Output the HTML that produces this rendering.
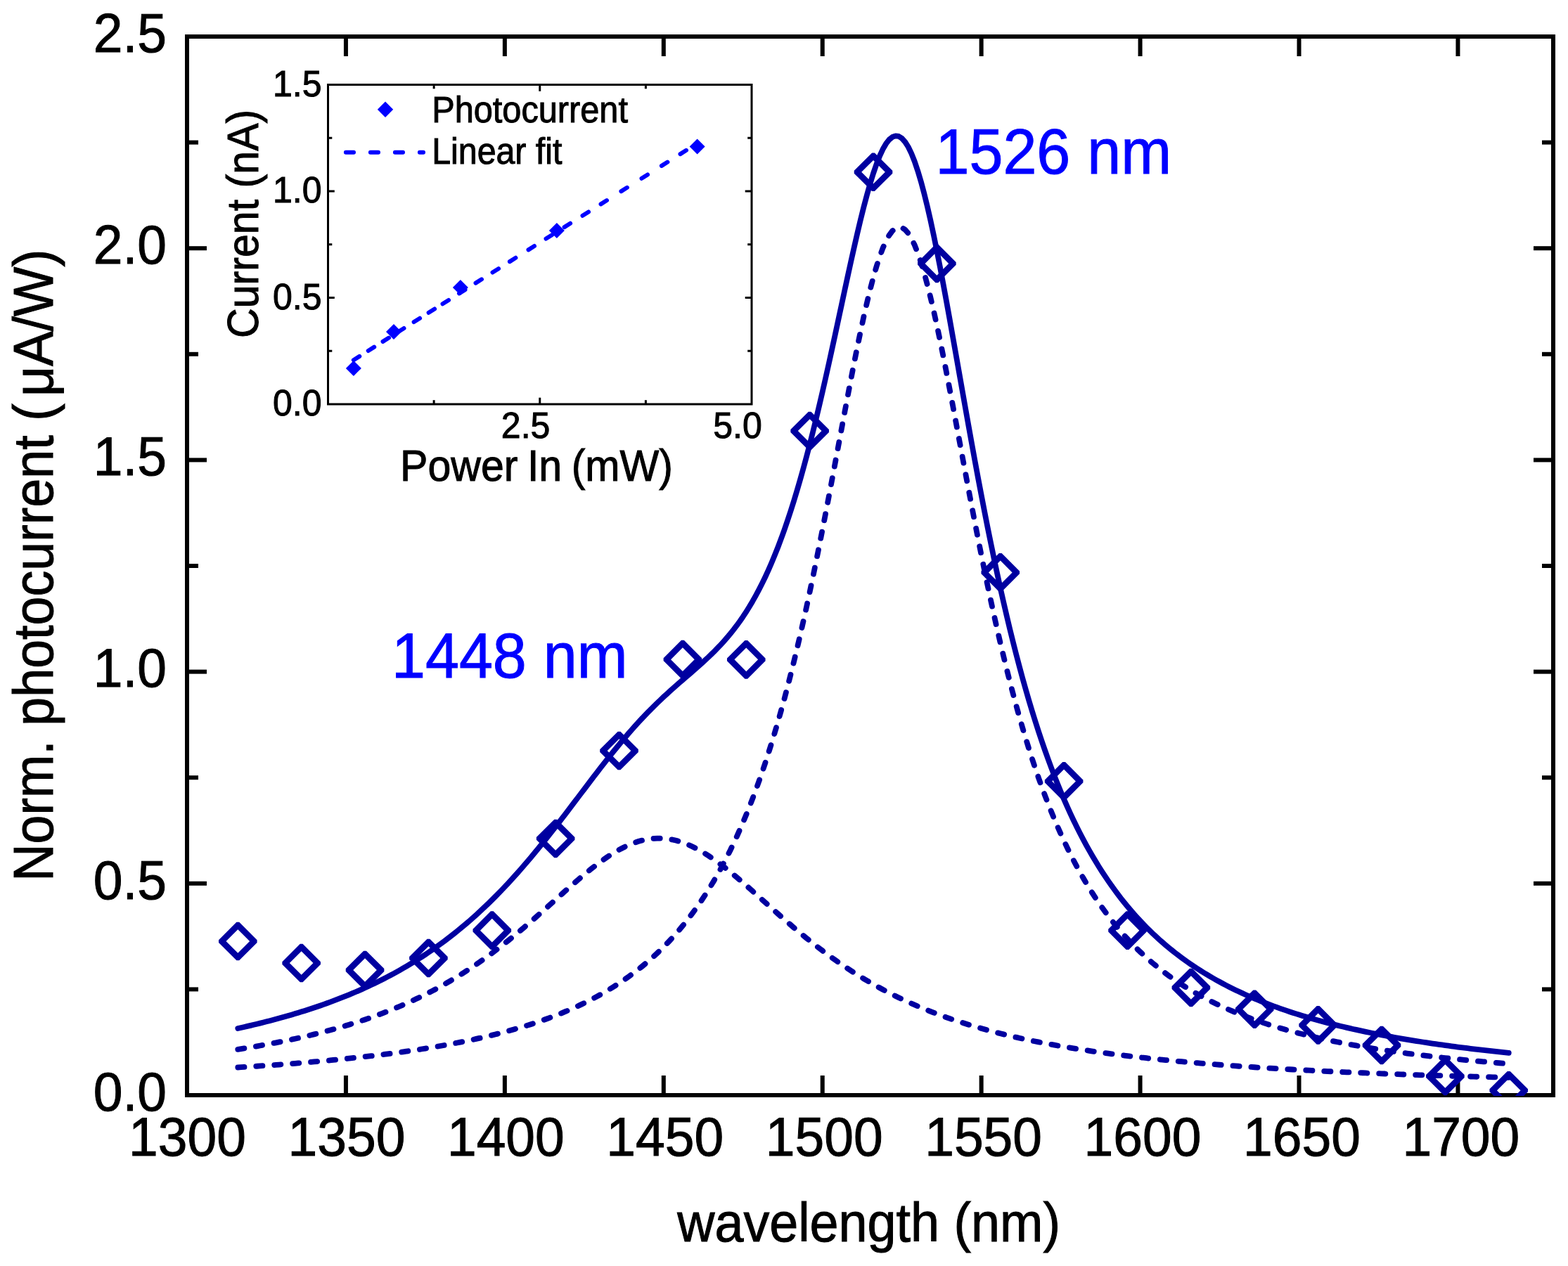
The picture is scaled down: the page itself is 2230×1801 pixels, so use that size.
<!DOCTYPE html>
<html><head><meta charset="utf-8"><title>Photocurrent spectrum</title>
<style>html,body{margin:0;padding:0;background:#fff;}body{width:2230px;height:1801px;overflow:hidden;}svg{display:block;}text{font-family:'Liberation Sans', Arial, Helvetica, sans-serif;}</style></head><body>
<svg width="2230" height="1801" viewBox="0 0 2230 1801">
<rect x="0" y="0" width="2230" height="1801" fill="#fff"/>
<defs><clipPath id="pc"><rect x="266.0" y="52.0" width="1943.0" height="1507.0"/></clipPath></defs>
<g stroke="#000" stroke-width="6" fill="none">
<rect x="266.0" y="52.0" width="1943.0" height="1506.0" stroke-linejoin="miter"/>
<line x1="491.93" y1="1558.0" x2="491.93" y2="1530.0"/>
<line x1="491.93" y1="52.0" x2="491.93" y2="80.0"/>
<line x1="717.86" y1="1558.0" x2="717.86" y2="1530.0"/>
<line x1="717.86" y1="52.0" x2="717.86" y2="80.0"/>
<line x1="943.79" y1="1558.0" x2="943.79" y2="1530.0"/>
<line x1="943.79" y1="52.0" x2="943.79" y2="80.0"/>
<line x1="1169.72" y1="1558.0" x2="1169.72" y2="1530.0"/>
<line x1="1169.72" y1="52.0" x2="1169.72" y2="80.0"/>
<line x1="1395.65" y1="1558.0" x2="1395.65" y2="1530.0"/>
<line x1="1395.65" y1="52.0" x2="1395.65" y2="80.0"/>
<line x1="1621.58" y1="1558.0" x2="1621.58" y2="1530.0"/>
<line x1="1621.58" y1="52.0" x2="1621.58" y2="80.0"/>
<line x1="1847.51" y1="1558.0" x2="1847.51" y2="1530.0"/>
<line x1="1847.51" y1="52.0" x2="1847.51" y2="80.0"/>
<line x1="2073.44" y1="1558.0" x2="2073.44" y2="1530.0"/>
<line x1="2073.44" y1="52.0" x2="2073.44" y2="80.0"/>
<line x1="266.0" y1="1407.40" x2="282.0" y2="1407.40"/>
<line x1="2209.0" y1="1407.40" x2="2193.0" y2="1407.40"/>
<line x1="266.0" y1="1256.80" x2="294.0" y2="1256.80"/>
<line x1="2209.0" y1="1256.80" x2="2181.0" y2="1256.80"/>
<line x1="266.0" y1="1106.20" x2="282.0" y2="1106.20"/>
<line x1="2209.0" y1="1106.20" x2="2193.0" y2="1106.20"/>
<line x1="266.0" y1="955.60" x2="294.0" y2="955.60"/>
<line x1="2209.0" y1="955.60" x2="2181.0" y2="955.60"/>
<line x1="266.0" y1="805.00" x2="282.0" y2="805.00"/>
<line x1="2209.0" y1="805.00" x2="2193.0" y2="805.00"/>
<line x1="266.0" y1="654.40" x2="294.0" y2="654.40"/>
<line x1="2209.0" y1="654.40" x2="2181.0" y2="654.40"/>
<line x1="266.0" y1="503.80" x2="282.0" y2="503.80"/>
<line x1="2209.0" y1="503.80" x2="2193.0" y2="503.80"/>
<line x1="266.0" y1="353.20" x2="294.0" y2="353.20"/>
<line x1="2209.0" y1="353.20" x2="2181.0" y2="353.20"/>
<line x1="266.0" y1="202.60" x2="282.0" y2="202.60"/>
<line x1="2209.0" y1="202.60" x2="2193.0" y2="202.60"/>
</g>
<g clip-path="url(#pc)" fill="none" stroke="#0000A0" stroke-width="7.8">
<path d="M338.30,1492.79 L342.82,1492.08 L347.33,1491.35 L351.85,1490.61 L356.37,1489.86 L360.89,1489.09 L365.41,1488.31 L369.93,1487.51 L374.45,1486.70 L378.97,1485.87 L383.48,1485.03 L388.00,1484.17 L392.52,1483.30 L397.04,1482.41 L401.56,1481.50 L406.08,1480.58 L410.60,1479.63 L415.11,1478.67 L419.63,1477.69 L424.15,1476.69 L428.67,1475.67 L433.19,1474.64 L437.71,1473.58 L442.23,1472.50 L446.74,1471.40 L451.26,1470.27 L455.78,1469.13 L460.30,1467.96 L464.82,1466.77 L469.34,1465.55 L473.86,1464.31 L478.37,1463.05 L482.89,1461.76 L487.41,1460.44 L491.93,1459.09 L496.45,1457.72 L500.97,1456.32 L505.49,1454.89 L510.00,1453.44 L514.52,1451.95 L519.04,1450.43 L523.56,1448.88 L528.08,1447.30 L532.60,1445.68 L537.12,1444.03 L541.63,1442.35 L546.15,1440.63 L550.67,1438.87 L555.19,1437.08 L559.71,1435.25 L564.23,1433.39 L568.75,1431.48 L573.27,1429.53 L577.78,1427.55 L582.30,1425.52 L586.82,1423.45 L591.34,1421.33 L595.86,1419.18 L600.38,1416.97 L604.90,1414.73 L609.41,1412.43 L613.93,1410.09 L618.45,1407.70 L622.97,1405.26 L627.49,1402.78 L632.01,1400.24 L636.53,1397.65 L641.04,1395.02 L645.56,1392.32 L650.08,1389.58 L654.60,1386.79 L659.12,1383.94 L663.64,1381.03 L668.16,1378.08 L672.67,1375.06 L677.19,1372.00 L681.71,1368.88 L686.23,1365.70 L690.75,1362.47 L695.27,1359.18 L699.79,1355.84 L704.30,1352.45 L708.82,1349.01 L713.34,1345.51 L717.86,1341.96 L722.38,1338.36 L726.90,1334.71 L731.42,1331.02 L735.93,1327.28 L740.45,1323.49 L744.97,1319.67 L749.49,1315.80 L754.01,1311.90 L758.53,1307.97 L763.05,1304.00 L767.57,1300.01 L772.08,1296.00 L776.60,1291.97 L781.12,1287.93 L785.64,1283.88 L790.16,1279.83 L794.68,1275.77 L799.20,1271.73 L803.71,1267.70 L808.23,1263.69 L812.75,1259.71 L817.27,1255.77 L821.79,1251.86 L826.31,1248.01 L830.83,1244.22 L835.34,1240.49 L839.86,1236.84 L844.38,1233.28 L848.90,1229.81 L853.42,1226.44 L857.94,1223.18 L862.46,1220.04 L866.97,1217.02 L871.49,1214.15 L876.01,1211.42 L880.53,1208.85 L885.05,1206.44 L889.57,1204.20 L894.09,1202.14 L898.60,1200.26 L903.12,1198.58 L907.64,1197.09 L912.16,1195.81 L916.68,1194.73 L921.20,1193.86 L925.72,1193.21 L930.23,1192.77 L934.75,1192.55 L939.27,1192.55 L943.79,1192.77 L948.31,1193.21 L952.83,1193.86 L957.35,1194.73 L961.87,1195.81 L966.38,1197.09 L970.90,1198.58 L975.42,1200.26 L979.94,1202.14 L984.46,1204.20 L988.98,1206.44 L993.50,1208.85 L998.01,1211.42 L1002.53,1214.15 L1007.05,1217.02 L1011.57,1220.04 L1016.09,1223.18 L1020.61,1226.44 L1025.13,1229.81 L1029.64,1233.28 L1034.16,1236.84 L1038.68,1240.49 L1043.20,1244.22 L1047.72,1248.01 L1052.24,1251.86 L1056.76,1255.77 L1061.27,1259.71 L1065.79,1263.69 L1070.31,1267.70 L1074.83,1271.73 L1079.35,1275.77 L1083.87,1279.83 L1088.39,1283.88 L1092.90,1287.93 L1097.42,1291.97 L1101.94,1296.00 L1106.46,1300.01 L1110.98,1304.00 L1115.50,1307.97 L1120.02,1311.90 L1124.53,1315.80 L1129.05,1319.67 L1133.57,1323.49 L1138.09,1327.28 L1142.61,1331.02 L1147.13,1334.71 L1151.65,1338.36 L1156.17,1341.96 L1160.68,1345.51 L1165.20,1349.01 L1169.72,1352.45 L1174.24,1355.84 L1178.76,1359.18 L1183.28,1362.47 L1187.80,1365.70 L1192.31,1368.88 L1196.83,1372.00 L1201.35,1375.06 L1205.87,1378.08 L1210.39,1381.03 L1214.91,1383.94 L1219.43,1386.79 L1223.94,1389.58 L1228.46,1392.32 L1232.98,1395.02 L1237.50,1397.65 L1242.02,1400.24 L1246.54,1402.78 L1251.06,1405.26 L1255.57,1407.70 L1260.09,1410.09 L1264.61,1412.43 L1269.13,1414.73 L1273.65,1416.97 L1278.17,1419.18 L1282.69,1421.33 L1287.20,1423.45 L1291.72,1425.52 L1296.24,1427.55 L1300.76,1429.53 L1305.28,1431.48 L1309.80,1433.39 L1314.32,1435.25 L1318.83,1437.08 L1323.35,1438.87 L1327.87,1440.63 L1332.39,1442.35 L1336.91,1444.03 L1341.43,1445.68 L1345.95,1447.30 L1350.47,1448.88 L1354.98,1450.43 L1359.50,1451.95 L1364.02,1453.44 L1368.54,1454.89 L1373.06,1456.32 L1377.58,1457.72 L1382.10,1459.09 L1386.61,1460.44 L1391.13,1461.76 L1395.65,1463.05 L1400.17,1464.31 L1404.69,1465.55 L1409.21,1466.77 L1413.73,1467.96 L1418.24,1469.13 L1422.76,1470.27 L1427.28,1471.40 L1431.80,1472.50 L1436.32,1473.58 L1440.84,1474.64 L1445.36,1475.67 L1449.87,1476.69 L1454.39,1477.69 L1458.91,1478.67 L1463.43,1479.63 L1467.95,1480.58 L1472.47,1481.50 L1476.99,1482.41 L1481.50,1483.30 L1486.02,1484.17 L1490.54,1485.03 L1495.06,1485.87 L1499.58,1486.70 L1504.10,1487.51 L1508.62,1488.31 L1513.13,1489.09 L1517.65,1489.86 L1522.17,1490.61 L1526.69,1491.35 L1531.21,1492.08 L1535.73,1492.79 L1540.25,1493.49 L1544.77,1494.18 L1549.28,1494.86 L1553.80,1495.53 L1558.32,1496.18 L1562.84,1496.82 L1567.36,1497.45 L1571.88,1498.07 L1576.40,1498.68 L1580.91,1499.28 L1585.43,1499.87 L1589.95,1500.45 L1594.47,1501.02 L1598.99,1501.58 L1603.51,1502.13 L1608.03,1502.67 L1612.54,1503.20 L1617.06,1503.72 L1621.58,1504.24 L1626.10,1504.74 L1630.62,1505.24 L1635.14,1505.73 L1639.66,1506.21 L1644.17,1506.69 L1648.69,1507.15 L1653.21,1507.61 L1657.73,1508.06 L1662.25,1508.51 L1666.77,1508.95 L1671.29,1509.38 L1675.80,1509.80 L1680.32,1510.22 L1684.84,1510.63 L1689.36,1511.03 L1693.88,1511.43 L1698.40,1511.82 L1702.92,1512.21 L1707.43,1512.59 L1711.95,1512.96 L1716.47,1513.33 L1720.99,1513.70 L1725.51,1514.05 L1730.03,1514.41 L1734.55,1514.75 L1739.07,1515.10 L1743.58,1515.43 L1748.10,1515.77 L1752.62,1516.09 L1757.14,1516.42 L1761.66,1516.74 L1766.18,1517.05 L1770.70,1517.36 L1775.21,1517.66 L1779.73,1517.96 L1784.25,1518.26 L1788.77,1518.55 L1793.29,1518.84 L1797.81,1519.12 L1802.33,1519.40 L1806.84,1519.68 L1811.36,1519.95 L1815.88,1520.22 L1820.40,1520.48 L1824.92,1520.74 L1829.44,1521.00 L1833.96,1521.26 L1838.47,1521.51 L1842.99,1521.75 L1847.51,1522.00 L1852.03,1522.24 L1856.55,1522.48 L1861.07,1522.71 L1865.59,1522.94 L1870.10,1523.17 L1874.62,1523.39 L1879.14,1523.62 L1883.66,1523.84 L1888.18,1524.05 L1892.70,1524.27 L1897.22,1524.48 L1901.73,1524.69 L1906.25,1524.89 L1910.77,1525.09 L1915.29,1525.30 L1919.81,1525.49 L1924.33,1525.69 L1928.85,1525.88 L1933.37,1526.07 L1937.88,1526.26 L1942.40,1526.45 L1946.92,1526.63 L1951.44,1526.81 L1955.96,1526.99 L1960.48,1527.17 L1965.00,1527.34 L1969.51,1527.52 L1974.03,1527.69 L1978.55,1527.86 L1983.07,1528.02 L1987.59,1528.19 L1992.11,1528.35 L1996.63,1528.51 L2001.14,1528.67 L2005.66,1528.83 L2010.18,1528.98 L2014.70,1529.14 L2019.22,1529.29 L2023.74,1529.44 L2028.26,1529.58 L2032.77,1529.73 L2037.29,1529.88 L2041.81,1530.02 L2046.33,1530.16 L2050.85,1530.30 L2055.37,1530.44 L2059.89,1530.58 L2064.40,1530.71 L2068.92,1530.84 L2073.44,1530.98 L2077.96,1531.11 L2082.48,1531.24 L2087.00,1531.36 L2091.52,1531.49 L2096.03,1531.62 L2100.55,1531.74 L2105.07,1531.86 L2109.59,1531.98 L2114.11,1532.10 L2118.63,1532.22 L2123.15,1532.34 L2127.67,1532.45 L2132.18,1532.57 L2136.70,1532.68 L2141.22,1532.80 L2145.74,1532.91" stroke-dasharray="9.2 16.8" stroke-linecap="round"/>
<path d="M338.30,1518.51 L342.82,1518.23 L347.33,1517.94 L351.85,1517.65 L356.37,1517.36 L360.89,1517.06 L365.41,1516.76 L369.93,1516.45 L374.45,1516.14 L378.97,1515.83 L383.48,1515.51 L388.00,1515.18 L392.52,1514.85 L397.04,1514.52 L401.56,1514.18 L406.08,1513.83 L410.60,1513.48 L415.11,1513.13 L419.63,1512.77 L424.15,1512.40 L428.67,1512.03 L433.19,1511.65 L437.71,1511.27 L442.23,1510.88 L446.74,1510.48 L451.26,1510.08 L455.78,1509.67 L460.30,1509.26 L464.82,1508.84 L469.34,1508.41 L473.86,1507.97 L478.37,1507.53 L482.89,1507.08 L487.41,1506.63 L491.93,1506.16 L496.45,1505.69 L500.97,1505.21 L505.49,1504.72 L510.00,1504.23 L514.52,1503.72 L519.04,1503.21 L523.56,1502.69 L528.08,1502.16 L532.60,1501.62 L537.12,1501.07 L541.63,1500.51 L546.15,1499.94 L550.67,1499.36 L555.19,1498.78 L559.71,1498.18 L564.23,1497.57 L568.75,1496.94 L573.27,1496.31 L577.78,1495.67 L582.30,1495.01 L586.82,1494.34 L591.34,1493.66 L595.86,1492.97 L600.38,1492.27 L604.90,1491.55 L609.41,1490.81 L613.93,1490.07 L618.45,1489.30 L622.97,1488.53 L627.49,1487.74 L632.01,1486.93 L636.53,1486.11 L641.04,1485.27 L645.56,1484.41 L650.08,1483.54 L654.60,1482.65 L659.12,1481.74 L663.64,1480.81 L668.16,1479.86 L672.67,1478.90 L677.19,1477.91 L681.71,1476.90 L686.23,1475.87 L690.75,1474.82 L695.27,1473.75 L699.79,1472.65 L704.30,1471.53 L708.82,1470.39 L713.34,1469.22 L717.86,1468.02 L722.38,1466.80 L726.90,1465.55 L731.42,1464.27 L735.93,1462.96 L740.45,1461.63 L744.97,1460.26 L749.49,1458.86 L754.01,1457.43 L758.53,1455.96 L763.05,1454.46 L767.57,1452.92 L772.08,1451.35 L776.60,1449.74 L781.12,1448.09 L785.64,1446.40 L790.16,1444.66 L794.68,1442.89 L799.20,1441.07 L803.71,1439.20 L808.23,1437.29 L812.75,1435.32 L817.27,1433.31 L821.79,1431.24 L826.31,1429.12 L830.83,1426.94 L835.34,1424.71 L839.86,1422.41 L844.38,1420.06 L848.90,1417.64 L853.42,1415.15 L857.94,1412.59 L862.46,1409.97 L866.97,1407.27 L871.49,1404.49 L876.01,1401.64 L880.53,1398.70 L885.05,1395.68 L889.57,1392.57 L894.09,1389.37 L898.60,1386.07 L903.12,1382.68 L907.64,1379.18 L912.16,1375.58 L916.68,1371.87 L921.20,1368.04 L925.72,1364.10 L930.23,1360.03 L934.75,1355.84 L939.27,1351.51 L943.79,1347.05 L948.31,1342.44 L952.83,1337.69 L957.35,1332.77 L961.87,1327.70 L966.38,1322.46 L970.90,1317.05 L975.42,1311.46 L979.94,1305.67 L984.46,1299.69 L988.98,1293.51 L993.50,1287.12 L998.01,1280.50 L1002.53,1273.65 L1007.05,1266.57 L1011.57,1259.23 L1016.09,1251.64 L1020.61,1243.77 L1025.13,1235.63 L1029.64,1227.19 L1034.16,1218.45 L1038.68,1209.40 L1043.20,1200.01 L1047.72,1190.29 L1052.24,1180.21 L1056.76,1169.76 L1061.27,1158.93 L1065.79,1147.71 L1070.31,1136.08 L1074.83,1124.02 L1079.35,1111.53 L1083.87,1098.58 L1088.39,1085.16 L1092.90,1071.26 L1097.42,1056.87 L1101.94,1041.97 L1106.46,1026.55 L1110.98,1010.60 L1115.50,994.10 L1120.02,977.06 L1124.53,959.45 L1129.05,941.28 L1133.57,922.55 L1138.09,903.25 L1142.61,883.39 L1147.13,862.98 L1151.65,842.02 L1156.17,820.55 L1160.68,798.58 L1165.20,776.14 L1169.72,753.27 L1174.24,730.01 L1178.76,706.43 L1183.28,682.57 L1187.80,658.52 L1192.31,634.36 L1196.83,610.18 L1201.35,586.09 L1205.87,562.19 L1210.39,538.61 L1214.91,515.49 L1219.43,492.97 L1223.94,471.20 L1228.46,450.33 L1232.98,430.53 L1237.50,411.94 L1242.02,394.74 L1246.54,379.08 L1251.06,365.10 L1255.57,352.94 L1260.09,342.73 L1264.61,334.56 L1269.13,328.53 L1273.65,324.71 L1278.17,323.13 L1282.69,323.80 L1287.20,326.74 L1291.72,331.89 L1296.24,339.21 L1300.76,348.62 L1305.28,360.01 L1309.80,373.28 L1314.32,388.29 L1318.83,404.89 L1323.35,422.94 L1327.87,442.27 L1332.39,462.73 L1336.91,484.16 L1341.43,506.40 L1345.95,529.30 L1350.47,552.71 L1354.98,576.50 L1359.50,600.53 L1364.02,624.69 L1368.54,648.87 L1373.06,672.97 L1377.58,696.91 L1382.10,720.61 L1386.61,744.01 L1391.13,767.04 L1395.65,789.66 L1400.17,811.82 L1404.69,833.49 L1409.21,854.66 L1413.73,875.29 L1418.24,895.37 L1422.76,914.90 L1427.28,933.86 L1431.80,952.25 L1436.32,970.08 L1440.84,987.35 L1445.36,1004.07 L1449.87,1020.24 L1454.39,1035.87 L1458.91,1050.97 L1463.43,1065.57 L1467.95,1079.66 L1472.47,1093.27 L1476.99,1106.40 L1481.50,1119.08 L1486.02,1131.31 L1490.54,1143.11 L1495.06,1154.49 L1499.58,1165.48 L1504.10,1176.07 L1508.62,1186.30 L1513.13,1196.16 L1517.65,1205.68 L1522.17,1214.87 L1526.69,1223.73 L1531.21,1232.29 L1535.73,1240.55 L1540.25,1248.52 L1544.77,1256.22 L1549.28,1263.66 L1553.80,1270.85 L1558.32,1277.79 L1562.84,1284.50 L1567.36,1290.98 L1571.88,1297.25 L1576.40,1303.31 L1580.91,1309.17 L1585.43,1314.83 L1589.95,1320.32 L1594.47,1325.63 L1598.99,1330.77 L1603.51,1335.74 L1608.03,1340.56 L1612.54,1345.22 L1617.06,1349.74 L1621.58,1354.13 L1626.10,1358.37 L1630.62,1362.49 L1635.14,1366.48 L1639.66,1370.35 L1644.17,1374.11 L1648.69,1377.75 L1653.21,1381.29 L1657.73,1384.72 L1662.25,1388.06 L1666.77,1391.30 L1671.29,1394.44 L1675.80,1397.50 L1680.32,1400.47 L1684.84,1403.36 L1689.36,1406.17 L1693.88,1408.90 L1698.40,1411.55 L1702.92,1414.14 L1707.43,1416.65 L1711.95,1419.10 L1716.47,1421.48 L1720.99,1423.80 L1725.51,1426.06 L1730.03,1428.26 L1734.55,1430.40 L1739.07,1432.49 L1743.58,1434.52 L1748.10,1436.51 L1752.62,1438.44 L1757.14,1440.33 L1761.66,1442.16 L1766.18,1443.96 L1770.70,1445.71 L1775.21,1447.42 L1779.73,1449.08 L1784.25,1450.71 L1788.77,1452.30 L1793.29,1453.85 L1797.81,1455.37 L1802.33,1456.85 L1806.84,1458.29 L1811.36,1459.70 L1815.88,1461.08 L1820.40,1462.43 L1824.92,1463.75 L1829.44,1465.04 L1833.96,1466.30 L1838.47,1467.54 L1842.99,1468.74 L1847.51,1469.92 L1852.03,1471.08 L1856.55,1472.21 L1861.07,1473.31 L1865.59,1474.39 L1870.10,1475.45 L1874.62,1476.49 L1879.14,1477.51 L1883.66,1478.50 L1888.18,1479.48 L1892.70,1480.43 L1897.22,1481.37 L1901.73,1482.28 L1906.25,1483.18 L1910.77,1484.06 L1915.29,1484.93 L1919.81,1485.77 L1924.33,1486.60 L1928.85,1487.41 L1933.37,1488.21 L1937.88,1488.99 L1942.40,1489.76 L1946.92,1490.52 L1951.44,1491.25 L1955.96,1491.98 L1960.48,1492.69 L1965.00,1493.39 L1969.51,1494.07 L1974.03,1494.75 L1978.55,1495.41 L1983.07,1496.06 L1987.59,1496.69 L1992.11,1497.32 L1996.63,1497.93 L2001.14,1498.54 L2005.66,1499.13 L2010.18,1499.71 L2014.70,1500.28 L2019.22,1500.85 L2023.74,1501.40 L2028.26,1501.94 L2032.77,1502.48 L2037.29,1503.00 L2041.81,1503.52 L2046.33,1504.03 L2050.85,1504.53 L2055.37,1505.02 L2059.89,1505.50 L2064.40,1505.97 L2068.92,1506.44 L2073.44,1506.90 L2077.96,1507.35 L2082.48,1507.80 L2087.00,1508.24 L2091.52,1508.67 L2096.03,1509.09 L2100.55,1509.51 L2105.07,1509.92 L2109.59,1510.32 L2114.11,1510.72 L2118.63,1511.11 L2123.15,1511.50 L2127.67,1511.88 L2132.18,1512.25 L2136.70,1512.62 L2141.22,1512.98 L2145.74,1513.34" stroke-dasharray="9.2 16.8" stroke-linecap="round"/>
<path d="M338.30,1462.94 L342.82,1461.95 L347.33,1460.93 L351.85,1459.90 L356.37,1458.86 L360.89,1457.79 L365.41,1456.71 L369.93,1455.60 L374.45,1454.48 L378.97,1453.34 L383.48,1452.17 L388.00,1450.99 L392.52,1449.79 L397.04,1448.56 L401.56,1447.31 L406.08,1446.04 L410.60,1444.75 L415.11,1443.44 L419.63,1442.09 L424.15,1440.73 L428.67,1439.34 L433.19,1437.92 L437.71,1436.48 L442.23,1435.01 L446.74,1433.52 L451.26,1431.99 L455.78,1430.44 L460.30,1428.86 L464.82,1427.24 L469.34,1425.60 L473.86,1423.92 L478.37,1422.22 L482.89,1420.48 L487.41,1418.70 L491.93,1416.90 L496.45,1415.05 L500.97,1413.17 L505.49,1411.26 L510.00,1409.30 L514.52,1407.31 L519.04,1405.28 L523.56,1403.21 L528.08,1401.09 L532.60,1398.94 L537.12,1396.74 L541.63,1394.50 L546.15,1392.21 L550.67,1389.88 L555.19,1387.50 L559.71,1385.07 L564.23,1382.59 L568.75,1380.06 L573.27,1377.48 L577.78,1374.85 L582.30,1372.17 L586.82,1369.43 L591.34,1366.64 L595.86,1363.79 L600.38,1360.88 L604.90,1357.91 L609.41,1354.88 L613.93,1351.79 L618.45,1348.64 L622.97,1345.43 L627.49,1342.15 L632.01,1338.81 L636.53,1335.40 L641.04,1331.92 L645.56,1328.37 L650.08,1324.76 L654.60,1321.07 L659.12,1317.31 L663.64,1313.48 L668.16,1309.58 L672.67,1305.60 L677.19,1301.54 L681.71,1297.41 L686.23,1293.21 L690.75,1288.93 L695.27,1284.57 L699.79,1280.13 L704.30,1275.62 L708.82,1271.03 L713.34,1266.36 L717.86,1261.62 L722.38,1256.80 L726.90,1251.90 L731.42,1246.93 L735.93,1241.88 L740.45,1236.76 L744.97,1231.56 L749.49,1226.30 L754.01,1220.97 L758.53,1215.57 L763.05,1210.10 L767.57,1204.58 L772.08,1198.99 L776.60,1193.35 L781.12,1187.66 L785.64,1181.92 L790.16,1176.13 L794.68,1170.30 L799.20,1164.43 L803.71,1158.54 L808.23,1152.62 L812.75,1146.67 L817.27,1140.71 L821.79,1134.74 L826.31,1128.77 L830.83,1122.80 L835.34,1116.84 L839.86,1110.90 L844.38,1104.98 L848.90,1099.08 L853.42,1093.22 L857.94,1087.41 L862.46,1081.64 L866.97,1075.93 L871.49,1070.28 L876.01,1064.70 L880.53,1059.19 L885.05,1053.76 L889.57,1048.41 L894.09,1043.15 L898.60,1037.97 L903.12,1032.89 L907.64,1027.91 L912.16,1023.02 L916.68,1018.23 L921.20,1013.54 L925.72,1008.94 L930.23,1004.44 L934.75,1000.03 L939.27,995.70 L943.79,991.46 L948.31,987.29 L952.83,983.18 L957.35,979.14 L961.87,975.15 L966.38,971.19 L970.90,967.27 L975.42,963.36 L979.94,959.45 L984.46,955.53 L988.98,951.59 L993.50,947.61 L998.01,943.56 L1002.53,939.44 L1007.05,935.23 L1011.57,930.91 L1016.09,926.45 L1020.61,921.85 L1025.13,917.07 L1029.64,912.11 L1034.16,906.93 L1038.68,901.53 L1043.20,895.87 L1047.72,889.94 L1052.24,883.71 L1056.76,877.17 L1061.27,870.28 L1065.79,863.04 L1070.31,855.42 L1074.83,847.39 L1079.35,838.94 L1083.87,830.04 L1088.39,820.68 L1092.90,810.83 L1097.42,800.49 L1101.94,789.61 L1106.46,778.21 L1110.98,766.24 L1115.50,753.71 L1120.02,740.60 L1124.53,726.89 L1129.05,712.59 L1133.57,697.68 L1138.09,682.16 L1142.61,666.04 L1147.13,649.32 L1151.65,632.02 L1156.17,614.15 L1160.68,595.72 L1165.20,576.78 L1169.72,557.36 L1174.24,537.50 L1178.76,517.25 L1183.28,496.68 L1187.80,475.86 L1192.31,454.88 L1196.83,433.82 L1201.35,412.79 L1205.87,391.90 L1210.39,371.28 L1214.91,351.07 L1219.43,331.39 L1223.94,312.42 L1228.46,294.29 L1232.98,277.18 L1237.50,261.24 L1242.02,246.62 L1246.54,233.50 L1251.06,222.00 L1255.57,212.28 L1260.09,204.46 L1264.61,198.63 L1269.13,194.90 L1273.65,193.32 L1278.17,193.94 L1282.69,196.78 L1287.20,201.82 L1291.72,209.05 L1296.24,218.39 L1300.76,229.79 L1305.28,243.13 L1309.80,258.30 L1314.32,275.18 L1318.83,293.61 L1323.35,313.45 L1327.87,334.54 L1332.39,356.72 L1336.91,379.83 L1341.43,403.72 L1345.95,428.23 L1350.47,453.23 L1354.98,478.56 L1359.50,504.11 L1364.02,529.76 L1368.54,555.40 L1373.06,580.93 L1377.58,606.28 L1382.10,631.35 L1386.61,656.09 L1391.13,680.43 L1395.65,704.34 L1400.17,727.77 L1404.69,750.69 L1409.21,773.06 L1413.73,794.89 L1418.24,816.14 L1422.76,836.81 L1427.28,856.89 L1431.80,876.39 L1436.32,895.30 L1440.84,913.62 L1445.36,931.38 L1449.87,948.57 L1454.39,965.20 L1458.91,981.28 L1463.43,996.84 L1467.95,1011.88 L1472.47,1026.41 L1476.99,1040.45 L1481.50,1054.01 L1486.02,1067.12 L1490.54,1079.78 L1495.06,1092.00 L1499.58,1103.81 L1504.10,1115.22 L1508.62,1126.24 L1513.13,1136.89 L1517.65,1147.18 L1522.17,1157.12 L1526.69,1166.72 L1531.21,1176.01 L1535.73,1184.98 L1540.25,1193.66 L1544.77,1202.05 L1549.28,1210.16 L1553.80,1218.01 L1558.32,1225.61 L1562.84,1232.96 L1567.36,1240.07 L1571.88,1246.96 L1576.40,1253.63 L1580.91,1260.08 L1585.43,1266.34 L1589.95,1272.41 L1594.47,1278.28 L1598.99,1283.98 L1603.51,1289.51 L1608.03,1294.86 L1612.54,1300.06 L1617.06,1305.11 L1621.58,1310.00 L1626.10,1314.75 L1630.62,1319.37 L1635.14,1323.85 L1639.66,1328.20 L1644.17,1332.43 L1648.69,1336.54 L1653.21,1340.54 L1657.73,1344.43 L1662.25,1348.21 L1666.77,1351.88 L1671.29,1355.46 L1675.80,1358.94 L1680.32,1362.33 L1684.84,1365.63 L1689.36,1368.84 L1693.88,1371.97 L1698.40,1375.01 L1702.92,1377.98 L1707.43,1380.88 L1711.95,1383.70 L1716.47,1386.45 L1720.99,1389.13 L1725.51,1391.75 L1730.03,1394.30 L1734.55,1396.79 L1739.07,1399.22 L1743.58,1401.59 L1748.10,1403.91 L1752.62,1406.17 L1757.14,1408.38 L1761.66,1410.54 L1766.18,1412.65 L1770.70,1414.70 L1775.21,1416.72 L1779.73,1418.68 L1784.25,1420.61 L1788.77,1422.49 L1793.29,1424.33 L1797.81,1426.13 L1802.33,1427.89 L1806.84,1429.61 L1811.36,1431.29 L1815.88,1432.94 L1820.40,1434.55 L1824.92,1436.13 L1829.44,1437.68 L1833.96,1439.20 L1838.47,1440.68 L1842.99,1442.13 L1847.51,1443.56 L1852.03,1444.95 L1856.55,1446.32 L1861.07,1447.66 L1865.59,1448.97 L1870.10,1450.26 L1874.62,1451.52 L1879.14,1452.76 L1883.66,1453.98 L1888.18,1455.17 L1892.70,1456.34 L1897.22,1457.48 L1901.73,1458.61 L1906.25,1459.71 L1910.77,1460.80 L1915.29,1461.86 L1919.81,1462.90 L1924.33,1463.93 L1928.85,1464.93 L1933.37,1465.92 L1937.88,1466.89 L1942.40,1467.85 L1946.92,1468.78 L1951.44,1469.70 L1955.96,1470.61 L1960.48,1471.50 L1965.00,1472.37 L1969.51,1473.23 L1974.03,1474.07 L1978.55,1474.90 L1983.07,1475.72 L1987.59,1476.52 L1992.11,1477.31 L1996.63,1478.08 L2001.14,1478.84 L2005.66,1479.59 L2010.18,1480.33 L2014.70,1481.06 L2019.22,1481.77 L2023.74,1482.48 L2028.26,1483.17 L2032.77,1483.85 L2037.29,1484.52 L2041.81,1485.18 L2046.33,1485.83 L2050.85,1486.46 L2055.37,1487.09 L2059.89,1487.71 L2064.40,1488.32 L2068.92,1488.92 L2073.44,1489.52 L2077.96,1490.10 L2082.48,1490.67 L2087.00,1491.24 L2091.52,1491.80 L2096.03,1492.34 L2100.55,1492.89 L2105.07,1493.42 L2109.59,1493.94 L2114.11,1494.46 L2118.63,1494.97 L2123.15,1495.47 L2127.67,1495.97 L2132.18,1496.46 L2136.70,1496.94 L2141.22,1497.42 L2145.74,1497.88" stroke-linecap="round" stroke-linejoin="round"/>
<path d="M336.40 1311.73L340.20 1311.73L365.60 1337.13L365.60 1340.93L340.20 1366.33L336.40 1366.33L311.00 1340.93L311.00 1337.13ZM338.30 1322.23L321.50 1339.03L338.30 1355.83L355.10 1339.03ZM426.77 1342.75L430.57 1342.75L455.97 1368.15L455.97 1371.95L430.57 1397.35L426.77 1397.35L401.37 1371.95L401.37 1368.15ZM428.67 1353.25L411.87 1370.05L428.67 1386.85L445.47 1370.05ZM517.14 1352.69L520.94 1352.69L546.34 1378.09L546.34 1381.89L520.94 1407.29L517.14 1407.29L491.74 1381.89L491.74 1378.09ZM519.04 1363.19L502.24 1379.99L519.04 1396.79L535.84 1379.99ZM607.51 1335.70L611.31 1335.70L636.71 1361.10L636.71 1364.90L611.31 1390.30L607.51 1390.30L582.11 1364.90L582.11 1361.10ZM609.41 1346.20L592.61 1363.00L609.41 1379.80L626.21 1363.00ZM697.89 1296.37L701.69 1296.37L727.09 1321.77L727.09 1325.57L701.69 1350.97L697.89 1350.97L672.49 1325.57L672.49 1321.77ZM699.79 1306.87L682.99 1323.67L699.79 1340.47L716.59 1323.67ZM788.26 1165.65L792.06 1165.65L817.46 1191.05L817.46 1194.85L792.06 1220.25L788.26 1220.25L762.86 1194.85L762.86 1191.05ZM790.16 1176.15L773.36 1192.95L790.16 1209.75L806.96 1192.95ZM878.63 1040.71L882.43 1040.71L907.83 1066.11L907.83 1069.91L882.43 1095.31L878.63 1095.31L853.23 1069.91L853.23 1066.11ZM880.53 1051.21L863.73 1068.01L880.53 1084.81L897.33 1068.01ZM969.00 910.83L972.80 910.83L998.20 936.23L998.20 940.03L972.80 965.43L969.00 965.43L943.60 940.03L943.60 936.23ZM970.90 921.33L954.10 938.13L970.90 954.93L987.70 938.13ZM1059.37 911.07L1063.17 911.07L1088.57 936.47L1088.57 940.27L1063.17 965.67L1059.37 965.67L1033.97 940.27L1033.97 936.47ZM1061.27 921.57L1044.47 938.37L1061.27 955.17L1078.07 938.37ZM1149.75 585.72L1153.55 585.72L1178.95 611.12L1178.95 614.92L1153.55 640.32L1149.75 640.32L1124.35 614.92L1124.35 611.12ZM1151.65 596.22L1134.85 613.02L1151.65 629.82L1168.45 613.02ZM1240.12 217.47L1243.92 217.47L1269.32 242.87L1269.32 246.67L1243.92 272.07L1240.12 272.07L1214.72 246.67L1214.72 242.87ZM1242.02 227.97L1225.22 244.77L1242.02 261.57L1258.82 244.77ZM1330.49 347.59L1334.29 347.59L1359.69 372.99L1359.69 376.79L1334.29 402.19L1330.49 402.19L1305.09 376.79L1305.09 372.99ZM1332.39 358.09L1315.59 374.89L1332.39 391.69L1349.19 374.89ZM1420.86 787.10L1424.66 787.10L1450.06 812.50L1450.06 816.30L1424.66 841.70L1420.86 841.70L1395.46 816.30L1395.46 812.50ZM1422.76 797.60L1405.96 814.40L1422.76 831.20L1439.56 814.40ZM1511.23 1084.08L1515.03 1084.08L1540.43 1109.48L1540.43 1113.28L1515.03 1138.68L1511.23 1138.68L1485.83 1113.28L1485.83 1109.48ZM1513.13 1094.58L1496.33 1111.38L1513.13 1128.18L1529.93 1111.38ZM1601.61 1296.37L1605.41 1296.37L1630.81 1321.77L1630.81 1325.57L1605.41 1350.97L1601.61 1350.97L1576.21 1325.57L1576.21 1321.77ZM1603.51 1306.87L1586.71 1323.67L1603.51 1340.47L1620.31 1323.67ZM1691.98 1377.69L1695.78 1377.69L1721.18 1403.09L1721.18 1406.89L1695.78 1432.29L1691.98 1432.29L1666.58 1406.89L1666.58 1403.09ZM1693.88 1388.19L1677.08 1404.99L1693.88 1421.79L1710.68 1404.99ZM1782.35 1408.41L1786.15 1408.41L1811.55 1433.81L1811.55 1437.61L1786.15 1463.01L1782.35 1463.01L1756.95 1437.61L1756.95 1433.81ZM1784.25 1418.91L1767.45 1435.71L1784.25 1452.51L1801.05 1435.71ZM1872.72 1431.12L1876.52 1431.12L1901.92 1456.52L1901.92 1460.32L1876.52 1485.72L1872.72 1485.72L1847.32 1460.32L1847.32 1456.52ZM1874.62 1441.62L1857.82 1458.42L1874.62 1475.22L1891.42 1458.42ZM1963.10 1459.68L1966.90 1459.68L1992.30 1485.08L1992.30 1488.88L1966.90 1514.28L1963.10 1514.28L1937.70 1488.88L1937.70 1485.08ZM1965.00 1470.18L1948.20 1486.98L1965.00 1503.78L1981.80 1486.98ZM2053.47 1503.71L2057.27 1503.71L2082.67 1529.11L2082.67 1532.91L2057.27 1558.31L2053.47 1558.31L2028.07 1532.91L2028.07 1529.11ZM2055.37 1514.21L2038.57 1531.01L2055.37 1547.81L2072.17 1531.01ZM2143.84 1523.89L2147.64 1523.89L2173.04 1549.29L2173.04 1553.09L2147.64 1578.49L2143.84 1578.49L2118.44 1553.09L2118.44 1549.29ZM2145.74 1534.39L2128.94 1551.19L2145.74 1567.99L2162.54 1551.19Z" fill="#0000A0" fill-rule="evenodd" stroke="none"/>
</g>
<text transform="translate(237.00 1579.80) scale(1.0000 1.0300)" font-size="75" text-anchor="end" stroke="#000" stroke-width="1.00">0.0</text>
<text transform="translate(237.00 1278.60) scale(1.0000 1.0300)" font-size="75" text-anchor="end" stroke="#000" stroke-width="1.00">0.5</text>
<text transform="translate(237.00 977.40) scale(1.0000 1.0300)" font-size="75" text-anchor="end" stroke="#000" stroke-width="1.00">1.0</text>
<text transform="translate(237.00 676.20) scale(1.0000 1.0300)" font-size="75" text-anchor="end" stroke="#000" stroke-width="1.00">1.5</text>
<text transform="translate(237.00 375.00) scale(1.0000 1.0300)" font-size="75" text-anchor="end" stroke="#000" stroke-width="1.00">2.0</text>
<text transform="translate(237.00 73.80) scale(1.0000 1.0300)" font-size="75" text-anchor="end" stroke="#000" stroke-width="1.00">2.5</text>
<text transform="translate(266.50 1644.00) scale(1.0000 1.0350)" font-size="75" text-anchor="middle" stroke="#000" stroke-width="1.00">1300</text>
<text transform="translate(492.92 1644.00) scale(1.0000 1.0350)" font-size="75" text-anchor="middle" stroke="#000" stroke-width="1.00">1350</text>
<text transform="translate(719.34 1644.00) scale(1.0000 1.0350)" font-size="75" text-anchor="middle" stroke="#000" stroke-width="1.00">1400</text>
<text transform="translate(945.76 1644.00) scale(1.0000 1.0350)" font-size="75" text-anchor="middle" stroke="#000" stroke-width="1.00">1450</text>
<text transform="translate(1172.18 1644.00) scale(1.0000 1.0350)" font-size="75" text-anchor="middle" stroke="#000" stroke-width="1.00">1500</text>
<text transform="translate(1398.60 1644.00) scale(1.0000 1.0350)" font-size="75" text-anchor="middle" stroke="#000" stroke-width="1.00">1550</text>
<text transform="translate(1625.02 1644.00) scale(1.0000 1.0350)" font-size="75" text-anchor="middle" stroke="#000" stroke-width="1.00">1600</text>
<text transform="translate(1851.44 1644.00) scale(1.0000 1.0350)" font-size="75" text-anchor="middle" stroke="#000" stroke-width="1.00">1650</text>
<text transform="translate(2077.86 1644.00) scale(1.0000 1.0350)" font-size="75" text-anchor="middle" stroke="#000" stroke-width="1.00">1700</text>
<text transform="translate(1235.60 1766.00) scale(0.9830 1.0350)" font-size="75" text-anchor="middle" stroke="#000" stroke-width="1.00">wavelength (nm)</text>
<text transform="translate(75.00 1253.70) rotate(-90) scale(0.9820 1.0500)" font-size="75" stroke="#000" stroke-width="1.00">Norm. photocurrent (</text>
<text transform="translate(75.00 354.60) rotate(-90) scale(0.9980 1.0500)" font-size="75" text-anchor="end" stroke="#000" stroke-width="1.00">&#956;A/W)</text>
<text transform="translate(1330.50 247.00) scale(0.9800 1.0430)" font-size="88" fill="#0000FF" stroke="#0000FF" stroke-width="1.00">1526 nm</text>
<text transform="translate(557.00 963.70) scale(0.9800 1.0430)" font-size="88" fill="#0000FF" stroke="#0000FF" stroke-width="1.00">1448 nm</text>
<rect x="466.5" y="120.5" width="602.5" height="454.5" fill="#fff"/>
<path d="M502.84 512.18L511.30 506.84M523.74 499.00L532.20 493.66M544.54 485.88L553.00 480.55M566.04 472.32L574.50 466.99M588.64 458.07L597.10 452.74M609.64 444.83L618.10 439.49M629.54 432.28L638.00 426.94M653.04 417.46L661.50 412.12M676.54 402.64L685.00 397.30M700.54 387.50L709.00 382.17M724.94 372.11L733.40 366.78M751.54 355.34L760.00 350.00M776.54 339.57L785.00 334.24M802.64 323.11L811.10 317.78M828.54 306.78L837.00 301.44M854.54 290.38L863.00 285.05M883.44 272.16L891.90 266.82M912.54 253.80L921.00 248.47M940.94 235.89L949.40 230.56M967.54 219.12L976.00 213.79" stroke="#0000FF" stroke-width="6" stroke-linecap="round" fill="none"/>
<path d="M502.90 512.90L513.90 523.90L502.90 534.90L491.90 523.90Z" fill="#0000FF"/>
<path d="M560.00 460.90L571.00 471.90L560.00 482.90L549.00 471.90Z" fill="#0000FF"/>
<path d="M654.90 397.90L665.90 408.90L654.90 419.90L643.90 408.90Z" fill="#0000FF"/>
<path d="M791.90 317.00L802.90 328.00L791.90 339.00L780.90 328.00Z" fill="#0000FF"/>
<path d="M991.60 197.40L1002.60 208.40L991.60 219.40L980.60 208.40Z" fill="#0000FF"/>
<path d="M548.00 144.60L559.20 155.80L548.00 167.00L536.80 155.80Z" fill="#0000FF"/>
<line x1="491.9" y1="216.8" x2="602" y2="216.8" stroke="#0000FF" stroke-width="6" stroke-linecap="round" stroke-dasharray="11.1 23.9"/>
<text transform="translate(614.20 173.80) scale(0.9740 1.0320)" font-size="50" stroke="#000" stroke-width="1.00">Photocurrent</text>
<text transform="translate(614.20 233.40) scale(0.9660 1.0200)" font-size="50" stroke="#000" stroke-width="1.00">Linear fit</text>
<g stroke="#000" stroke-width="3" fill="none">
<rect x="466.5" y="120.5" width="602.5" height="454.5"/>
<line x1="617.12" y1="575.0" x2="617.12" y2="569.2"/>
<line x1="617.12" y1="120.5" x2="617.12" y2="126.3"/>
<line x1="767.75" y1="575.0" x2="767.75" y2="565.7"/>
<line x1="767.75" y1="120.5" x2="767.75" y2="129.8"/>
<line x1="918.38" y1="575.0" x2="918.38" y2="569.2"/>
<line x1="918.38" y1="120.5" x2="918.38" y2="126.3"/>
<line x1="466.5" y1="499.25" x2="472.3" y2="499.25"/>
<line x1="1069.0" y1="499.25" x2="1063.2" y2="499.25"/>
<line x1="466.5" y1="423.50" x2="475.8" y2="423.50"/>
<line x1="1069.0" y1="423.50" x2="1059.7" y2="423.50"/>
<line x1="466.5" y1="347.75" x2="472.3" y2="347.75"/>
<line x1="1069.0" y1="347.75" x2="1063.2" y2="347.75"/>
<line x1="466.5" y1="272.00" x2="475.8" y2="272.00"/>
<line x1="1069.0" y1="272.00" x2="1059.7" y2="272.00"/>
<line x1="466.5" y1="196.25" x2="472.3" y2="196.25"/>
<line x1="1069.0" y1="196.25" x2="1063.2" y2="196.25"/>
</g>
<text transform="translate(457.50 591.00) scale(1.0000 1.0400)" font-size="50" text-anchor="end" stroke="#000" stroke-width="1.00">0.0</text>
<text transform="translate(457.50 439.50) scale(1.0000 1.0400)" font-size="50" text-anchor="end" stroke="#000" stroke-width="1.00">0.5</text>
<text transform="translate(457.50 288.00) scale(1.0000 1.0400)" font-size="50" text-anchor="end" stroke="#000" stroke-width="1.00">1.0</text>
<text transform="translate(457.50 136.50) scale(1.0000 1.0400)" font-size="50" text-anchor="end" stroke="#000" stroke-width="1.00">1.5</text>
<text transform="translate(747.60 623.00) scale(1.0000 1.0300)" font-size="50" text-anchor="middle" stroke="#000" stroke-width="1.00">2.5</text>
<text transform="translate(1049.00 623.00) scale(1.0000 1.0300)" font-size="50" text-anchor="middle" stroke="#000" stroke-width="1.00">5.0</text>
<text transform="translate(763.00 683.80) scale(0.9850 1.0350)" font-size="60" text-anchor="middle" stroke="#000" stroke-width="1.00" word-spacing="-3">Power In (mW)</text>
<text transform="translate(367.40 318.40) rotate(-90) scale(0.9860 1.0350)" font-size="60" text-anchor="middle" stroke="#000" stroke-width="1.00">Current (nA)</text>
</svg></body></html>
